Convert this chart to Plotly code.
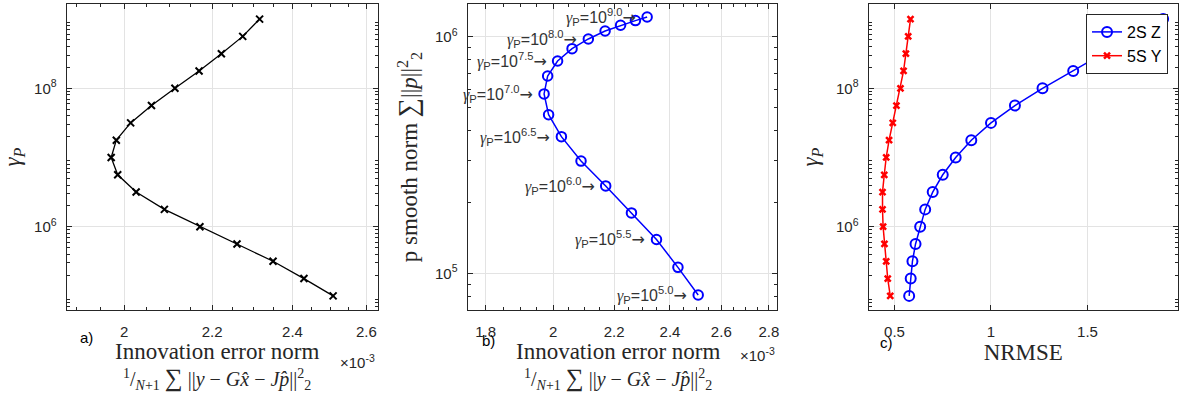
import numpy as np
import plotly.graph_objects as go

# ---------------- data ----------------
gamma_exp = [5.0, 5.25, 5.5, 5.75, 6.0, 6.25, 6.5, 6.75, 7.0, 7.25, 7.5, 7.75, 8.0, 8.25, 8.5, 8.75, 9.0]
innov_e3 = [2.508, 2.430, 2.350, 2.260, 2.171, 2.089, 2.026, 1.986, 1.972, 1.983, 2.014, 2.060,
            2.113, 2.169, 2.222, 2.274, 2.316]          # x 1e-3
psmooth = [8.1e4, 1.06e5, 1.39e5, 1.80e5, 2.34e5, 2.98e5, 3.78e5, 4.68e5, 5.73e5, 6.82e5,
           7.89e5, 8.9e5, 9.78e5, 1.057e6, 1.117e6, 1.169e6, 1.211e6]
nrmse_2SZ = [0.576, 0.584, 0.593, 0.609, 0.633, 0.659, 0.698, 0.750, 0.817, 0.898, 1.000, 1.124,
             1.267, 1.426, 1.580, 1.735, 1.892]
nrmse_5SY = [0.478, 0.465, 0.457, 0.448, 0.441, 0.438, 0.438, 0.447, 0.457, 0.472, 0.491, 0.510,
             0.531, 0.547, 0.559, 0.571, 0.583]
label_exps = [5.0, 5.5, 6.0, 6.5, 7.0, 7.5, 8.0, 9.0]
SCALE = 1e-3

gamma = [10 ** e for e in gamma_exp]
innov = [v * SCALE for v in innov_e3]

W, H = 1183, 398
AX = "#262626"
GRID = "#e3e3e3"
SANS = "Liberation Sans, Arial, sans-serif"
SERIF = "Liberation Serif, Times New Roman, serif"


def px_x(p):
    return p / W


def px_y(p):
    return 1 - p / H


fig = go.Figure()

fig.add_trace(go.Scatter(x=innov, y=gamma, mode="lines+markers", xaxis="x", yaxis="y",
                         line=dict(color="black", width=1.3),
                         marker=dict(symbol="x-thin", size=7, line=dict(width=2, color="black")),
                         showlegend=False))
fig.add_trace(go.Scatter(x=innov, y=psmooth, mode="lines+markers", xaxis="x2", yaxis="y2",
                         line=dict(color="#0000ff", width=1.5),
                         marker=dict(symbol="circle-open", size=9.5, color="#0000ff",
                                     line=dict(width=2, color="#0000ff")),
                         showlegend=False))
fig.add_trace(go.Scatter(x=nrmse_2SZ, y=gamma, mode="lines+markers", xaxis="x3", yaxis="y3",
                         name="2S Z", line=dict(color="#0000ff", width=1.5),
                         marker=dict(symbol="circle-open", size=10, color="#0000ff",
                                     line=dict(width=2, color="#0000ff"))))
fig.add_trace(go.Scatter(x=nrmse_5SY, y=gamma, mode="lines+markers", xaxis="x3", yaxis="y3",
                         name="5S Y", line=dict(color="#ff0000", width=1.5),
                         marker=dict(symbol="x-thin", size=6, color="#ff0000",
                                     line=dict(width=2.5, color="#ff0000"))))

common = dict(showline=True, linecolor=AX, linewidth=1, mirror="allticks", ticks="inside",
              ticklen=5, tickcolor=AX, showgrid=True, gridcolor=GRID, gridwidth=1,
              zeroline=False, tickfont=dict(family=SANS, size=15, color=AX),
              title_font=dict(family=SERIF, size=23, color=AX))


def log_minor(lo, hi):
    vals = []
    for d in range(int(np.floor(lo)), int(np.ceil(hi)) + 1):
        for m in range(2, 10):
            v = m * 10 ** d
            if 10 ** lo <= v <= 10 ** hi:
                vals.append(v)
    return vals


xt_line1 = "Innovation error norm"
xt_line2 = ("<sup>1</sup>/<sub><i>N</i>+1</sub> "
            "<span style='font-size:25px'>∑</span> ||<i>y</i> − <i>Gx̂</i> − <i>Jp̂</i>||"
            "<sup>2</sup><sub>2</sub>")
gam_title = "<i>γ</i><sub><i>P</i></sub>"

xa_rng = [np.log10(1.879e-3), np.log10(2.632e-3)]
ya_rng = [4.796, 9.218]
xb_rng = [np.log10(1.750e-3), np.log10(2.836e-3)]
yb_rng = [4.845, 6.138]

x_minor_a = [round(v, 3) * SCALE for v in np.arange(1.90, 2.63, 0.05)]
x_minor_b = [round(v, 3) * SCALE for v in np.arange(1.75, 2.84, 0.05)]

dom_y = [px_y(310), px_y(4)]
dom_a = [px_x(66.7), px_x(378.3)]
dom_b = [px_x(468.3), px_x(778.3)]
dom_c = [px_x(870), px_x(1180)]

fig.update_layout(
    xaxis=dict(common, domain=dom_a, type="log", range=xa_rng,
               tickvals=[v * SCALE for v in [2, 2.2, 2.4, 2.6]], ticktext=["2", "2.2", "2.4", "2.6"],
               minor=dict(tickvals=x_minor_a, ticks="inside", ticklen=3, tickcolor=AX, showgrid=False),
               anchor="y", ticklabelstandoff=8),
    yaxis=dict(common, domain=dom_y, type="log", range=ya_rng,
               tickvals=[1e6, 1e8], ticktext=["10<sup>6</sup>", "10<sup>8</sup>"],
               minor=dict(tickvals=log_minor(*ya_rng), ticks="inside", ticklen=3, tickcolor=AX,
                          showgrid=False),
               anchor="x", ticklabelstandoff=6, title=dict(text=gam_title, standoff=10)),
    xaxis2=dict(common, domain=dom_b, type="log", range=xb_rng,
                tickvals=[v * SCALE for v in [1.8, 2, 2.2, 2.4, 2.6, 2.8]],
                ticktext=["1.8", "2", "2.2", "2.4", "2.6", "2.8"],
                minor=dict(tickvals=x_minor_b, ticks="inside", ticklen=3, tickcolor=AX, showgrid=False),
                anchor="y2", ticklabelstandoff=8),
    yaxis2=dict(common, domain=dom_y, type="log", range=yb_rng,
                tickvals=[1e5, 1e6], ticktext=["10<sup>5</sup>", "10<sup>6</sup>"],
                minor=dict(tickvals=log_minor(*yb_rng), ticks="inside", ticklen=3, tickcolor=AX,
                           showgrid=False),
                anchor="x2", ticklabelstandoff=6,
                title=dict(text="p smooth norm <span style='font-size:27px'>∑</span>||<i>p</i>||<sup>2</sup><sub>2</sub>",
                           standoff=10)),
    xaxis3=dict(common, domain=dom_c, range=[0.3655, 1.969],
                tickvals=[0.5, 1, 1.5], ticktext=["0.5", "1", "1.5"],
                anchor="y3", ticklabelstandoff=8, title=dict(text="NRMSE", standoff=0)),
    yaxis3=dict(common, domain=dom_y, type="log", range=ya_rng,
                tickvals=[1e6, 1e8], ticktext=["10<sup>6</sup>", "10<sup>8</sup>"],
                minor=dict(tickvals=log_minor(*ya_rng), ticks="inside", ticklen=3, tickcolor=AX,
                           showgrid=False),
                anchor="x3", ticklabelstandoff=6, title=dict(text=gam_title, standoff=10)),
)

annotations = []
# gamma labels on panel b
for e in label_exps:
    i = gamma_exp.index(e)
    annotations.append(dict(
        x=np.log10(innov[i]), y=np.log10(psmooth[i]), xref="x2", yref="y2",
        text=("<span style='font-family:Liberation Serif'><i>γ</i></span><sub>P</sub>=10"
              f"<sup>{e:.1f}</sup><span style='font-family:DejaVu Sans'>→</span>"),
        showarrow=False, xanchor="right", yanchor="middle", xshift=-9, yshift=0,
        font=dict(family=SANS, size=16, color="#333333")))

# x-axis titles of panels a and b (two lines)
for dom in (dom_a, dom_b):
    cx = (dom[0] + dom[1]) / 2 - 0.004
    annotations.append(dict(x=cx, y=px_y(351), xref="paper", yref="paper",
                            text=xt_line1, showarrow=False, xanchor="center", yanchor="middle",
                            font=dict(family=SERIF, size=23, color=AX)))
    annotations.append(dict(x=cx, y=px_y(378), xref="paper", yref="paper",
                            text=xt_line2, showarrow=False, xanchor="center", yanchor="middle",
                            font=dict(family=SERIF, size=20, color=AX)))

for txt, x, y in [("a)", 87, 337), ("b)", 489, 340), ("c)", 888, 342)]:
    annotations.append(dict(x=px_x(x), y=px_y(y), xref="paper", yref="paper", text=txt,
                            showarrow=False, xanchor="center", yanchor="middle",
                            font=dict(family=SANS, size=15, color="black")))
for x, y in [(378, 361), (778, 354)]:
    annotations.append(dict(x=px_x(x), y=px_y(y), xref="paper", yref="paper",
                            text="×10<sup>-3</sup>", showarrow=False, xanchor="right",
                            yanchor="middle", font=dict(family=SANS, size=15, color=AX)))

fig.update_layout(
    annotations=annotations,
    width=W, height=H, margin=dict(l=0, r=0, t=0, b=0),
    paper_bgcolor="white", plot_bgcolor="white",
    legend=dict(x=px_x(1170), y=px_y(14), xanchor="right", yanchor="top",
                bgcolor="white", bordercolor=AX, borderwidth=1,
                font=dict(family=SANS, size=16, color="black"), tracegroupgap=0),
)

fig.write_html("out.html")
